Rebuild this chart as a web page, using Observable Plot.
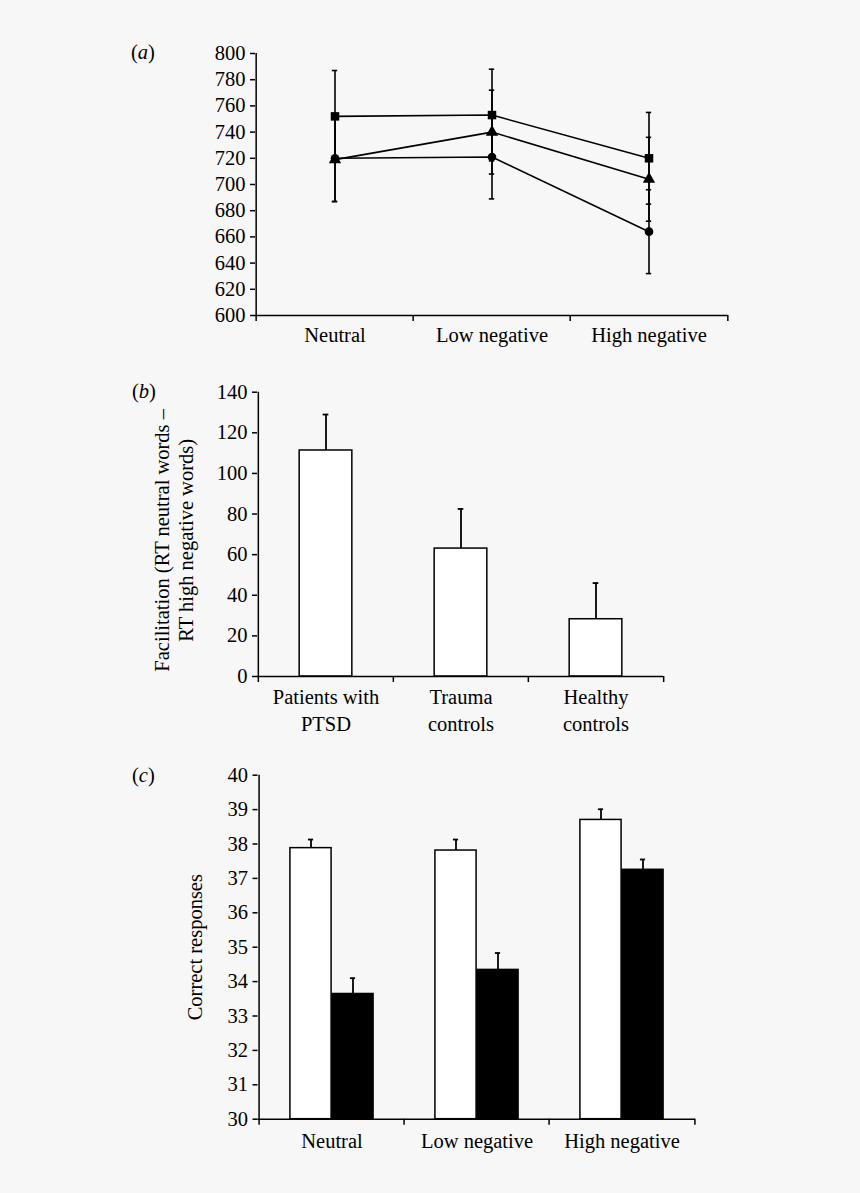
<!DOCTYPE html>
<html><head><meta charset="utf-8">
<script src="https://cdn.jsdelivr.net/npm/d3@7"></script>
<script src="https://cdn.jsdelivr.net/npm/@observablehq/plot@0.6"></script>
<style>
html,body{margin:0;padding:0;background:#f7f7f7;}
#wrap{position:relative;width:860px;height:1193px;background:#f7f7f7;font-family:"Liberation Serif","Times New Roman",serif;color:#000;}
.panel{position:absolute;left:0;}
.panel svg{font-family:"Liberation Serif","Times New Roman",serif !important;font-size:20.5px !important;}
.panel svg text{font-family:"Liberation Serif","Times New Roman",serif !important;}
.plab{position:absolute;font-size:20.5px;line-height:1;}
.plab i{font-style:italic;}
</style></head><body><div id="wrap"></div>
<script>
// ---------- data ----------
const conditions = ["Neutral", "Low negative", "High negative"];

// panel (a): reaction times per group (square, triangle, circle markers)
const groupsA = ["Trauma controls", "Healthy controls", "Patients with PTSD"];
const symbolsA = ["square", "triangle", "circle"];
const meansSquare = [752, 753, 720];
const errsSquare = [35, 35, 35];
const meansTriangle = [719, 740, 704];
const errsTriangle = [32, 32, 32];
const meansCircle = [720, 721, 664];
const errsCircle = [33, 32, 32];
const yTicksA = [600, 620, 640, 660, 680, 700, 720, 740, 760, 780, 800];

// panel (b): facilitation
const groupsB = ["Patients with\nPTSD", "Trauma\ncontrols", "Healthy\ncontrols"];
const valuesB = [111.3, 63, 28.2];
const errsB = [17.7, 19.5, 17.8];
const yTicksB = [0, 20, 40, 60, 80, 100, 120, 140];
const yLabelB = "Facilitation (RT neutral words –\nRT high negative words)";

// panel (c): correct responses (white and black bars)
const seriesC = ["white", "black"];
const valuesWhite = [37.88, 37.81, 38.70];
const errsWhite = [0.25, 0.32, 0.31];
const valuesBlack = [33.64, 34.34, 37.25];
const errsBlack = [0.46, 0.49, 0.30];
const yTicksC = [30, 31, 32, 33, 34, 35, 36, 37, 38, 39, 40];
const yLabelC = "Correct responses";

// ---------- helpers ----------
const wrap = document.getElementById("wrap");
const baseStyle = {fontFamily: "Liberation Serif, serif", fontSize: "20.5px", background: "transparent", overflow: "visible", color: "black"};
function place(svg, top) {
  const d = document.createElement("div");
  d.className = "panel"; d.style.top = top + "px";
  d.appendChild(svg); wrap.appendChild(d);
}
function label(html, left, top) {
  const d = document.createElement("div");
  d.className = "plab"; d.style.left = left + "px"; d.style.top = top + "px";
  d.innerHTML = html; wrap.appendChild(d);
}
// category-boundary ticks and left axis line for a band x scale
function frameMarks(cats, bw, ymin, ymax, sw) {
  return [
    Plot.ruleY([ymin], {y: d => d, stroke: "black", strokeWidth: sw}),
    Plot.ruleX([cats[0]], {x: d => d, y1: ymin, y2: ymax, dx: -bw / 2, stroke: "black", strokeWidth: sw}),
    Plot.ruleX(cats, {x: d => d, y1: ymin, y2: ymin, dx: -bw / 2, insetBottom: -6, stroke: "black", strokeWidth: sw}),
    Plot.ruleX([cats[cats.length - 1]], {x: d => d, y1: ymin, y2: ymin, dx: bw / 2, insetBottom: -6, stroke: "black", strokeWidth: sw})
  ];
}

// ---------- panel (a) ----------
{
  const W = 860, mL = 255, mR = 132, mT = 53, plotBottom = 315, H = 360;
  const bw = (W - mL - mR) / conditions.length;
  const series = [
    {name: groupsA[0], sym: symbolsA[0], m: meansSquare, e: errsSquare, r: 4.8},
    {name: groupsA[1], sym: symbolsA[1], m: meansTriangle, e: errsTriangle, r: 4.6},
    {name: groupsA[2], sym: symbolsA[2], m: meansCircle, e: errsCircle, r: 4.3}
  ];
  const rows = series.flatMap(s => conditions.map((c, j) => ({group: s.name, sym: s.sym, cond: c, v: s.m[j], e: s.e[j]})));
  const capInset = bw / 2 - 3;
  const svg = Plot.plot({
    width: W, height: H, marginLeft: mL, marginRight: mR, marginTop: mT, marginBottom: H - plotBottom,
    style: baseStyle,
    x: {domain: conditions, padding: 0},
    y: {domain: [yTicksA[0], yTicksA[yTicksA.length - 1]]},
    marks: [
      Plot.axisY({ticks: yTicksA, tickSize: 5, tickPadding: 5, label: null, strokeWidth: 1.5}),
      Plot.axisX({tickSize: 0, tickPadding: 12, label: null}),
      ...frameMarks(conditions, bw, yTicksA[0], yTicksA[yTicksA.length - 1], 1.5),
      Plot.ruleX(rows, {x: "cond", y1: d => d.v - d.e, y2: d => d.v + d.e, stroke: "black", strokeWidth: 1.6}),
      Plot.tickY(rows, {x: "cond", y: d => d.v + d.e, insetLeft: capInset, insetRight: capInset, stroke: "black", strokeWidth: 1.6}),
      Plot.tickY(rows, {x: "cond", y: d => d.v - d.e, insetLeft: capInset, insetRight: capInset, stroke: "black", strokeWidth: 1.6}),
      Plot.line(rows, {x: "cond", y: "v", z: "group", stroke: "black", strokeWidth: 1.6}),
      ...series.map(s => Plot.dot(rows.filter(d => d.group === s.name), {x: "cond", y: "v", symbol: s.sym, r: s.r, fill: "black", stroke: "none"}))
    ]
  });
  place(svg, 0);
  label("(<i>a</i>)", 131, 42);
}

// ---------- panel (b) ----------
{
  const top = 360, W = 860, mL = 257, mR = 197, mT = 391.7 - top, plotBottom = 676 - top, H = 390;
  const bw = (W - mL - mR) / groupsB.length;
  const rows = groupsB.map((g, i) => ({g, v: valuesB[i], e: errsB[i]}));
  const barInset = (bw - 53) / 2;
  const capInset = bw / 2 - 3;
  const svg = Plot.plot({
    width: W, height: H, marginLeft: mL, marginRight: mR, marginTop: mT, marginBottom: H - plotBottom,
    style: baseStyle,
    x: {domain: groupsB, padding: 0},
    y: {domain: [yTicksB[0], yTicksB[yTicksB.length - 1]]},
    marks: [
      Plot.axisY({ticks: yTicksB, tickSize: 5, tickPadding: 5, label: null, strokeWidth: 1.5}),
      Plot.axisX({tickSize: 0, tickPadding: 9, label: null, lineHeight: 1.3}),
      Plot.ruleX(rows, {x: "g", y1: "v", y2: d => d.v + d.e, stroke: "black", strokeWidth: 1.8}),
      Plot.tickY(rows, {x: "g", y: d => d.v + d.e, insetLeft: capInset, insetRight: capInset, stroke: "black", strokeWidth: 1.8}),
      Plot.barY(rows, {x: "g", y: "v", fill: "white", stroke: "black", strokeWidth: 1.5, insetLeft: barInset, insetRight: barInset}),
      ...frameMarks(groupsB, bw, yTicksB[0], yTicksB[yTicksB.length - 1], 1.5),
      Plot.text([yLabelB], {text: d => d, frameAnchor: "left", rotate: -90, dx: -84, dy: 6, textAnchor: "middle", lineHeight: 1.17})
    ]
  });
  place(svg, top);
  label("(<i>b</i>)", 132, 381);
}

// ---------- panel (c) ----------
{
  const top = 750, W = 860, mL = 257.5, mR = 165, mT = 774.7 - top, plotBottom = 1118.7 - top, H = 443;
  const bw = (W - mL - mR) / conditions.length;
  const barW = 42;
  const rows = [
    ...conditions.map((c, i) => ({s: seriesC[0], c, v: valuesWhite[i], e: errsWhite[i]})),
    ...conditions.map((c, i) => ({s: seriesC[1], c, v: valuesBlack[i], e: errsBlack[i]}))
  ];
  const white = rows.filter(d => d.s === "white"), black = rows.filter(d => d.s === "black");
  const y0 = yTicksC[0];
  const svg = Plot.plot({
    width: W, height: H, marginLeft: mL, marginRight: mR, marginTop: mT, marginBottom: H - plotBottom,
    style: baseStyle,
    x: {domain: conditions, padding: 0},
    y: {domain: [yTicksC[0], yTicksC[yTicksC.length - 1]]},
    marks: [
      Plot.axisY({ticks: yTicksC, tickSize: 5, tickPadding: 5, label: null, strokeWidth: 1.5}),
      Plot.axisX({tickSize: 0, tickPadding: 14, label: null}),
      Plot.ruleX(white, {x: "c", y1: "v", y2: d => d.v + d.e, dx: -barW / 2, stroke: "black", strokeWidth: 1.8}),
      Plot.tickY(white, {x: "c", y: d => d.v + d.e, insetLeft: bw / 2 - barW / 2 - 3, insetRight: bw / 2 + barW / 2 - 3, stroke: "black", strokeWidth: 1.8}),
      Plot.ruleX(black, {x: "c", y1: "v", y2: d => d.v + d.e, dx: barW / 2, stroke: "black", strokeWidth: 1.8}),
      Plot.tickY(black, {x: "c", y: d => d.v + d.e, insetLeft: bw / 2 + barW / 2 - 3, insetRight: bw / 2 - barW / 2 - 3, stroke: "black", strokeWidth: 1.8}),
      Plot.barY(white, {x: "c", y1: y0, y2: "v", fill: "white", stroke: "black", strokeWidth: 1.5, insetLeft: bw / 2 - barW, insetRight: bw / 2}),
      Plot.barY(black, {x: "c", y1: y0, y2: "v", fill: "black", stroke: "black", strokeWidth: 1.5, insetLeft: bw / 2, insetRight: bw / 2 - barW}),
      ...frameMarks(conditions, bw, yTicksC[0], yTicksC[yTicksC.length - 1], 1.5),
      Plot.text([yLabelC], {text: d => d, frameAnchor: "left", rotate: -90, dx: -63, textAnchor: "middle"})
    ]
  });
  place(svg, top);
  label("(<i>c</i>)", 132, 765);
}
</script></body></html>
